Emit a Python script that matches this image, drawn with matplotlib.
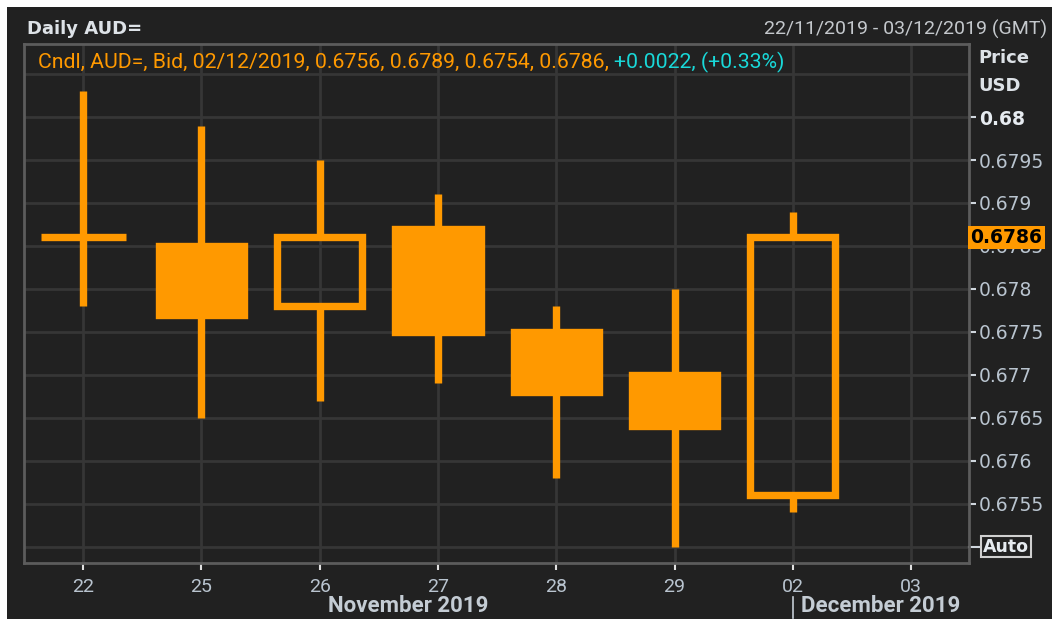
import matplotlib
matplotlib.use("Agg")
import matplotlib.pyplot as plt
from matplotlib.patches import Rectangle
import matplotlib.transforms as mtransforms

# daily AUD= bid candles, 22/11/2019 - 02/12/2019
days = ['22', '25', '26', '27', '28', '29', '02']
opens = [0.6786, 0.6785, 0.6778, 0.6787, 0.6775, 0.6770, 0.6756]
highs = [0.6803, 0.6799, 0.6795, 0.6791, 0.6778, 0.6780, 0.6789]
lows = [0.6778, 0.6765, 0.6767, 0.6769, 0.6758, 0.6750, 0.6754]
closes = [0.6786, 0.6777, 0.6786, 0.6775, 0.6768, 0.6764, 0.6786]

tick_days = ['22', '25', '26', '27', '28', '29', '02', '03']
price_ticks = [0.6755, 0.676, 0.6765, 0.677, 0.6775, 0.678, 0.6785, 0.679, 0.6795, 0.68]
price_labels = ['0.6755', '0.676', '0.6765', '0.677', '0.6775', '0.678', '0.6785', '0.679', '0.6795', '0.68']

W, H = 1052, 619
BG = '#212121'
ORANGE = '#ff9900'
GRID = '#363636'
LABEL = '#b9c4cf'
NARROW = ['Roboto', 'DejaVu Sans']


def fx(px):
    return px / W


def fy(py):
    return 1 - py / H


fig = plt.figure(figsize=(W / 100, H / 100), dpi=100, facecolor='white')
fig.patches.append(Rectangle((fx(7), 0), 1 - fx(7), fy(7), transform=fig.transFigure,
                             facecolor=BG, edgecolor='none', zorder=-10))

ax = fig.add_axes([fx(24), fy(563), fx(969) - fx(24), fy(44) - fy(563)])
ax.set_facecolor(BG)
ax.set_xlim(-0.5, 7.49)
ax.set_ylim(0.67481, 0.68085)

# candles
x = list(range(len(days)))
body_w = 0.72
lw = 5.3
for i in x:
    o, h, l, c = opens[i], highs[i], lows[i], closes[i]
    top, bot = max(o, c), min(o, c)
    ax.vlines(i, top, h, color=ORANGE, linewidth=lw, zorder=3)
    ax.vlines(i, l, bot, color=ORANGE, linewidth=lw, zorder=3)
    filled = c < o
    ax.bar(i, top - bot, bottom=bot, width=body_w,
           facecolor=ORANGE if filled else 'none', edgecolor=ORANGE,
           linewidth=lw, zorder=4)

# axes styling
for s in ax.spines.values():
    s.set_color('#5c5c5c')
    s.set_linewidth(2)

ax.yaxis.tick_right()
ax.set_yticks(price_ticks)
ax.set_yticklabels(price_labels)
ax.tick_params(axis='y', colors='#cfd6dd', length=5, width=1.5, pad=2,
               labelsize=13.5, labelcolor=LABEL)
for lab in ax.get_yticklabels():
    if lab.get_text() == '0.68':
        lab.set_fontweight('bold')
        lab.set_color('#e6ebf0')
ax.set_xticks(range(len(tick_days)))
ax.set_xticklabels(tick_days, family=NARROW)
ax.tick_params(axis='x', colors='#e0e0e0', length=5, width=1.5, pad=6,
               labelsize=14, labelcolor=LABEL)
ax.grid(True, color=GRID, linewidth=2, zorder=0)
ax.set_axisbelow(True)
# gridlines at 0.675 and 0.6805 without labels
for yv in [0.675, 0.6805]:
    ax.axhline(yv, color=GRID, linewidth=2, zorder=0.5)

trans = mtransforms.blended_transform_factory(ax.transAxes, ax.transData)
ax.plot([1.0, 1.012], [0.675, 0.675], color='#cfd6dd', linewidth=1.5,
        transform=trans, clip_on=False)
ax.text(1.015, 0.675, 'Auto', transform=trans, va='center', ha='left',
        fontsize=12.5, fontweight='bold', color='#e6ebf0',
        bbox=dict(boxstyle='square,pad=0.1', facecolor=BG, edgecolor='#d0d0d0', linewidth=1.5))
ax.text(1.0015, closes[-1], '%.4f' % closes[-1], transform=trans, va='center', ha='left',
        fontsize=13.5, fontweight='bold', color='black',
        bbox=dict(boxstyle='square,pad=0.12', facecolor=ORANGE, edgecolor='none'))

# header texts
fig.text(fx(27), fy(29), 'Daily AUD=', fontsize=13, fontweight='bold', color='#dde2e7',
         va='center', ha='left')
fig.text(fx(1047), fy(29), '22/11/2019 - 03/12/2019 (GMT)', fontsize=14, color='#c4c8cc',
         va='center', ha='right', family=NARROW)
fig.text(fx(978), fy(58), 'Price', fontsize=13, fontweight='bold', color='#dde2e7',
         va='center', ha='left')
fig.text(fx(978), fy(86), 'USD', fontsize=13, fontweight='bold', color='#dde2e7',
         va='center', ha='left')

legend_txt = 'Cndl, AUD=, Bid, 02/12/2019, %.4f, %.4f, %.4f, %.4f, ' % (
    opens[-1], highs[-1], lows[-1], closes[-1])
t1 = fig.text(fx(38), fy(62), legend_txt, fontsize=15.3, color=ORANGE, va='center',
              ha='left', family=NARROW)
fig.canvas.draw()
bb = t1.get_window_extent()
chg = closes[-1] - closes[-2]
fig.text(bb.x1 / W, fy(62), '%+.4f, (%+.2f%%)' % (chg, chg / closes[-2] * 100),
         fontsize=15.3, color='#19d8d8', va='center', ha='left', family=NARROW)

# month labels
fig.text(fx(408), fy(606), 'November 2019', fontsize=16, fontweight='bold', color='#c4ccd4',
         va='center', ha='center', family=NARROW)
fig.text(fx(801), fy(606), 'December 2019', fontsize=16, fontweight='bold', color='#c4ccd4',
         va='center', ha='left', family=NARROW)
fig.lines.append(plt.Line2D([fx(793), fx(793)], [fy(597), fy(618)], transform=fig.transFigure,
                            color='#c4ccd4', linewidth=1.2))

fig.savefig('out.png', dpi=100, facecolor=fig.get_facecolor())
